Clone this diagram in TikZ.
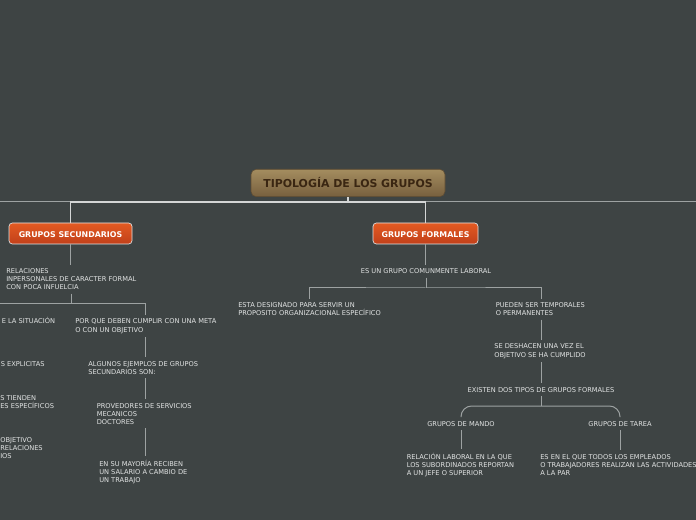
\documentclass[tikz,border=0pt]{standalone}
\usepackage{fontspec}
\setmainfont{DejaVu Sans}
\usetikzlibrary{positioning}
\definecolor{board}    {HTML}{3E4444}
\definecolor{chalk}    {HTML}{E2E4E4}
\definecolor{wire}     {HTML}{9DA2A2}
\definecolor{wirelight}{HTML}{D4D6D6}
\definecolor{rusttop}  {HTML}{E35A22}
\definecolor{rustbot}  {HTML}{C1401A}
\definecolor{sandtop}  {HTML}{A48D5F}
\definecolor{sandbot}  {HTML}{775F3E}
\definecolor{bark}     {HTML}{3A2612}

\begin{document}
\begin{tikzpicture}[x=0.75pt,y=-0.75pt,
  txt/.style={font=\fontsize{5}{6}\selectfont, text=chalk, align=left,
              inner sep=0pt, outer ysep=3pt},
  conn/.style={draw=wire, line width=0.75pt},
  trunk/.style={draw=wirelight, line width=1pt},
  topic/.style={font=\fontsize{5.9}{7}\bfseries, text=white, rounded corners=2.5pt,
                draw=chalk, line width=0.5pt, top color=rusttop, bottom color=rustbot,
                minimum height=15.75pt, inner sep=0pt, text height=5.4pt, text depth=0pt},
  root/.style={font=\fontsize{8.2}{10}\bfseries, text=bark, rounded corners=4pt,
               draw=sandbot!80!black, line width=0.4pt, top color=sandtop, bottom color=sandbot,
               minimum width=145.5pt, minimum height=20.6pt, inner sep=0pt,
               text height=7.4pt, text depth=0pt}]
  % canvas
  \fill[board] (0,0) rectangle (696,520);
  \useasboundingbox (0,0) rectangle (696,520);
  \clip (0,0) rectangle (696,520);

  % central topic and main branches
  \node[root] (root) at (348,183) {TIPOLOGÍA DE LOS GRUPOS};
  \node[topic, minimum width=92.25pt] (sec)  at (70.5,233.5) {GRUPOS SECUNDARIOS};
  \node[topic, minimum width=78.75pt] (form) at (425.5,233.5) {GRUPOS FORMALES};

  \coordinate (edgeL) at (0,202);
  \coordinate (edgeR) at (696,202);
  \draw[conn] (edgeL) -- (edgeR);
  \draw[trunk] (root.south) -- ++(0,5) coordinate (hub);
  \draw[trunk] (sec.north) |- (hub) -| (form.north);

  % grupos secundarios (base = last line)
  \node[txt, anchor=base west] (rel) at (6,289.5)
    {RELACIONES\\INPERSONALES DE CARACTER FORMAL\\CON POCA INFUELCIA};
  \node[txt, anchor=base west] (sitL) at (1.5,324) {E LA SITUACIÓN};
  \node[txt, anchor=base west] (meta) at (75,332)
    {POR QUE DEBEN CUMPLIR CON UNA META\\O CON UN OBJETIVO};
  \node[txt, anchor=base west] (explL) at (0.5,366) {S EXPLICITAS};
  \node[txt, anchor=base west] (ejem) at (88,374)
    {ALGUNOS EJEMPLOS DE GRUPOS\\SECUNDARIOS SON:};
  \node[txt, anchor=base west] (tiendL) at (0,408) {S TIENDEN\\ES ESPECÍFICOS};
  \node[txt, anchor=base west] (prov) at (96.5,424)
    {PROVEDORES DE SERVICIOS\\MECANICOS\\DOCTORES};
  \node[txt, anchor=base west] (objL) at (0,458) {OBJETIVO\\RELACIONES\\IOS};
  \node[txt, anchor=base west] (salario) at (99,482)
    {EN SU MAYORÍA RECIBEN\\UN SALARIO A CAMBIO DE\\UN TRABAJO};

  \coordinate (forkL) at (71,304);
  \coordinate (offL) at (-4,304);
  \draw[conn] (sec.south) -- (sec.south |- rel.north);
  \draw[conn] (rel.south -| forkL) -- (forkL);
  \draw[conn] (offL) -| ([xshift=-0.5]meta.north);
  \draw[conn] ([xshift=-0.5]meta.south) -- ([xshift=-0.5]meta.south |- ejem.north);
  \draw[conn] ([xshift=-0.5]meta.south |- ejem.south) -- ([xshift=-0.5]meta.south |- prov.north);
  \draw[conn] ([xshift=-0.5]meta.south |- prov.south) -- ([xshift=-0.5]meta.south |- salario.north);

  % grupos formales
  \node[txt, anchor=base] (lab) at (426,273.5) {ES UN GRUPO COMUNMENTE LABORAL};
  \node[txt, anchor=base west] (desig) at (238,315.5)
    {ESTA DESIGNADO PARA SERVIR UN\\PROPOSITO ORGANIZACIONAL ESPECÍFICO};
  \node[txt, anchor=base west] (temp) at (495.5,315.5)
    {PUEDEN SER TEMPORALES\\O PERMANENTES};
  \node[txt, anchor=base west] (desh) at (494,357)
    {SE DESHACEN UNA VEZ EL\\OBJETIVO SE HA CUMPLIDO};
  \node[txt, anchor=base] (tipos) at (541,392) {EXISTEN DOS TIPOS DE GRUPOS FORMALES};
  \node[txt, anchor=base] (mando) at (461,426) {GRUPOS DE MANDO};
  \node[txt, anchor=base] (tarea) at (620,426) {GRUPOS DE TAREA};
  \node[txt, anchor=base west] (subord) at (406.5,475)
    {RELACIÓN LABORAL EN LA QUE\\LOS SUBORDINADOS REPORTAN\\A UN JEFE O SUPERIOR};
  \node[txt, anchor=base west] (todos) at (540,475)
    {ES EN EL QUE TODOS LOS EMPLEADOS\\O TRABAJADORES REALIZAN LAS ACTIVIDADES\\A LA PAR};

  \coordinate (forkR) at (426,288);
  \coordinate (brk) at (541,406);
  \draw[conn] (form.south) -- (form.south |- lab.north);
  \draw[conn] (lab.south) -- (forkR);
  \draw[conn] (desig.north) |- (forkR) -| (brk |- temp.north);
  \draw[conn] (brk |- temp.south) -- (brk |- desh.north);
  \draw[conn] (brk |- desh.south) -- (brk |- tipos.north);
  \draw[conn] (tipos.south) -- (brk);
  \draw[conn, rounded corners=8] (mando.north) |- (brk) -| (tarea.north);
  \draw[conn] (mando.south) -- (mando.south |- subord.north);
  \draw[conn] (tarea.south) -- (tarea.south |- todos.north);
\end{tikzpicture}
\end{document}
